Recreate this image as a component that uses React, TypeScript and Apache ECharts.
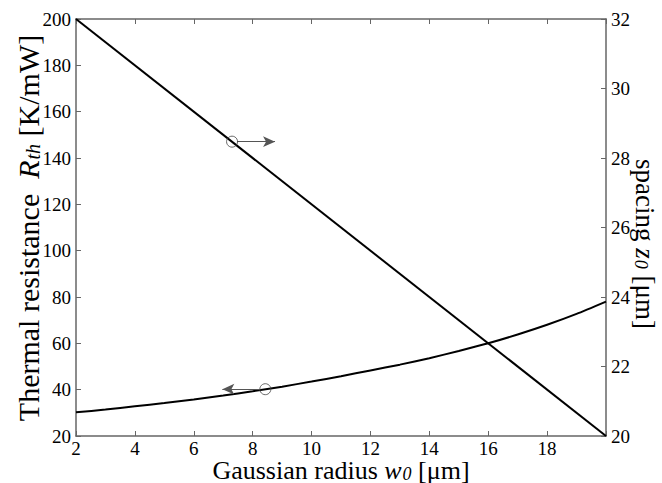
import React, { useEffect, useRef } from "react";
import * as echarts from "echarts";

// Gaussian radius w0 [µm]
const radiusW0 = [2, 3, 4, 5, 6, 7, 8, 9, 10, 11, 12, 13, 14, 15, 16, 17, 18, 19, 20];
// Thermal resistance R_th [K/mW] (left axis)
const thermalRth = [30.2, 31.4, 32.8, 34.2, 35.8, 37.5, 39.3, 41.3, 43.5, 45.8, 48.3, 50.8, 53.6, 56.7, 60.0, 63.8, 68.0, 72.7, 78.0];
// spacing z0 [µm] (right axis) — straight line
const spacingX = [2, 20];
const spacingZ0 = [32, 20];
// marker circles with arrows
const markerSpacing = [7.3, 28.47];
const markerThermal = [8.43, 40.2];

const xTicks = { min: 2, max: 20, interval: 2 };
const leftTicks = { min: 20, max: 200, interval: 20 };
const rightTicks = { min: 20, max: 32, interval: 2 };

const xTitle = "{n|Gaussian radius }{i|w}{s|0}{n| [μm]}";
const leftTitle = "{n|Thermal resistance  }{i|R}{s|th}{n| [K/mW]}";
const rightTitle = "{n|spacing }{i|z}{s|0}{n| [μm]}";

const FONT = "Liberation Serif";

function titleText(text: string, size: number, x: number, y: number, rotation: number) {
  const sub = Math.round(size * 0.68);
  const drop = Math.round(size * 0.2);
  return {
    type: "text",
    x,
    y,
    rotation,
    silent: true,
    style: {
      text,
      fontFamily: FONT,
      fontSize: size,
      fill: "#000",
      align: "center",
      verticalAlign: "middle",
      rich: {
        n: { fontFamily: FONT, fontSize: size, lineHeight: size, verticalAlign: "top", fill: "#000" },
        i: { fontFamily: FONT, fontSize: size, lineHeight: size, verticalAlign: "top", fontStyle: "italic", fill: "#000" },
        s: {
          fontFamily: FONT,
          fontSize: sub,
          lineHeight: sub,
          fontStyle: "italic",
          fill: "#000",
          verticalAlign: "bottom",
          padding: [size + drop - sub, 0, 0, 1],
        },
      },
    },
  };
}

export default function App() {
  const ref = useRef<HTMLDivElement>(null);
  useEffect(() => {
    if (!ref.current) return;
    const chart = echarts.init(ref.current, undefined, { renderer: "svg" });
    const axisLine = { show: true, lineStyle: { color: "#666", width: 1.5 } };
    const axisTick = { show: true, inside: true, length: 5, lineStyle: { color: "#666", width: 1 } };
    const label = { color: "#000", fontFamily: FONT, fontSize: 19, lineHeight: 19 };
    const arrowLen = 1.46;
    const circleOff = 0.17;
    const markerItem = { color: "transparent", borderColor: "#444", borderWidth: 1 };
    chart.setOption({
      animation: false,
      backgroundColor: "#fff",
      grid: { left: 76, right: 56, top: 19, bottom: 47, containLabel: false, outerBoundsMode: "none" },
      graphic: [
        titleText(xTitle, 26, 341, 470, 0),
        titleText(leftTitle, 30, 28, 228, Math.PI / 2),
        titleText(rightTitle, 27, 645, 244, -Math.PI / 2),
      ],
      xAxis: [
        {
          type: "value",
          ...xTicks,
          position: "bottom",
          axisLine,
          axisTick,
          splitLine: { show: false },
          axisLabel: { ...label, margin: 3, formatter: (v: number) => (v === 20 ? "" : String(v)) },
        },
        {
          type: "value",
          ...xTicks,
          position: "top",
          axisLine,
          axisTick,
          splitLine: { show: false },
          axisLabel: { show: false },
        },
      ],
      yAxis: [
        {
          type: "value",
          ...leftTicks,
          position: "left",
          axisLine,
          axisTick,
          splitLine: { show: false },
          axisLabel: { ...label, margin: 5 },
        },
        {
          type: "value",
          ...rightTicks,
          position: "right",
          axisLine,
          axisTick,
          splitLine: { show: false },
          axisLabel: { ...label, margin: 5 },
        },
      ],
      series: [
        {
          type: "line",
          xAxisIndex: 0,
          yAxisIndex: 0,
          data: radiusW0.map((x, i) => [x, thermalRth[i]]),
          smooth: 0.2,
          showSymbol: false,
          lineStyle: { color: "#000", width: 2 },
        },
        {
          type: "line",
          xAxisIndex: 0,
          yAxisIndex: 1,
          data: spacingX.map((x, i) => [x, spacingZ0[i]]),
          showSymbol: false,
          lineStyle: { color: "#000", width: 2 },
        },
        {
          type: "scatter",
          xAxisIndex: 0,
          yAxisIndex: 1,
          data: [markerSpacing],
          symbol: "circle",
          symbolSize: 11,
          itemStyle: markerItem,
          z: 5,
          markLine: {
            silent: true,
            symbol: ["none", "arrow"],
            symbolSize: [8, 12],
            label: { show: false },
            lineStyle: { color: "#555", width: 1, type: "solid" },
            data: [[
              { coord: [markerSpacing[0] + circleOff, markerSpacing[1]] },
              { coord: [markerSpacing[0] + arrowLen, markerSpacing[1]] },
            ]],
          },
        },
        {
          type: "scatter",
          xAxisIndex: 0,
          yAxisIndex: 0,
          data: [markerThermal],
          symbol: "circle",
          symbolSize: 11,
          itemStyle: markerItem,
          z: 5,
          markLine: {
            silent: true,
            symbol: ["none", "arrow"],
            symbolSize: [8, 12],
            label: { show: false },
            lineStyle: { color: "#555", width: 1, type: "solid" },
            data: [[
              { coord: [markerThermal[0] - circleOff, markerThermal[1]] },
              { coord: [markerThermal[0] - arrowLen, markerThermal[1]] },
            ]],
          },
        },
      ],
    });
    return () => chart.dispose();
  }, []);
  return <div ref={ref} style={{ position: "fixed", left: 0, top: 0, width: 662, height: 483 }} />;
}
